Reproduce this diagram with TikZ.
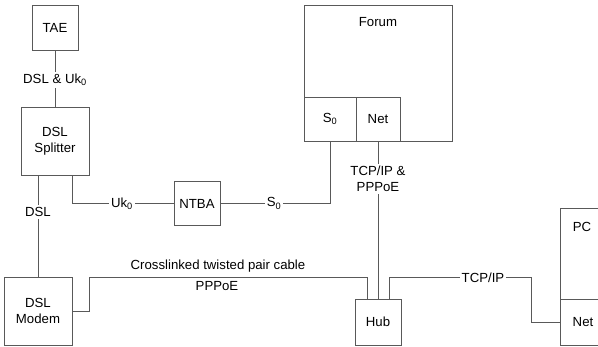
\documentclass[tikz,border=0pt]{standalone}
\usepackage{fontspec}
\setmainfont{Liberation Sans}
\begin{document}
\begin{tikzpicture}[
		x=1pt, y=-1pt,
		font=\fontsize{13.2}{16}\selectfont,
		b/.style = {rectangle, draw=black!65, line width=0.8pt, inner sep=0pt, align=center},
		l/.style = {inner sep=2pt, align=center},
		c/.style = {draw=black!65, line width=0.8pt}
		]
		\clip (0,0) rectangle (598,346);
		
		%Nodes
		\node[b, minimum width=46, minimum height=45]	(tae)		at	(55, 27.5)	{TAE};
		\node[b, minimum width=68, minimum height=68]	(splitter)	at	(55, 141)	{DSL\\Splitter};
		\node[b, minimum width=68, minimum height=68]	(modem)		at	(38, 311)	{DSL\\Modem};
		\node[b, minimum width=46, minimum height=44]	(ntba)		at	(197, 203.5)	{NTBA};
		\node[b, minimum width=148, minimum height=136]	(forum)		at	(378, 73)	{};
		\node[l]										(forumlbl)	at	(378, 22)	{Forum};
		\node[b, minimum width=52, minimum height=44]	(fs0)		at	(330, 119)	{S\textsubscript{0}};
		\node[b, minimum width=44, minimum height=44]	(fnet)		at	(378, 119)	{Net};
		\node[b, minimum width=46, minimum height=46]	(hub)		at	(378, 322)	{Hub};
		\node[b, minimum width=46, minimum height=137]	(pc)		at	(583, 276.5){};
		\node[l]										(pclbl)		at	(582, 227)	{PC};
		\node[b, minimum width=46, minimum height=46]	(pcnet)		at	(583, 322)	{Net};
		
		%Labels
		\node[l]	(dsluk)		at	(55, 80)	{DSL \& Uk\textsubscript{0}};
		\node[l]	(dsl)		at	(38, 212)	{DSL};
		\node[l]	(uk)		at	(122, 203.5)	{Uk\textsubscript{0}};
		\node[l]	(s0)		at	(274, 203.5)	{S\textsubscript{0}};
		\node[l]	(tcppppoe)	at	(378, 179)	{TCP/IP \&\\PPPoE};
		\node[l]	(tcpip)		at	(483, 277.5)	{TCP/IP};
		\node[l]	(cable)		at	(218, 266)	{Crosslinked twisted pair cable};
		\node[l]	(pppoe)		at	(217, 286)	{PPPoE};
		\coordinate	(cablel)	at	(89, 277.5);
		
		%Lines
		\draw[c]	(tae)		--	(dsluk)	--	(splitter);
		\draw[c]	(dsl |- splitter.south)	--	(dsl)	--	(modem);
		\draw[c]	([xshift=17pt]splitter.south)	|-	(uk.west);
		\draw[c]	(uk)		--	(ntba)	--	(s0);
		\draw[c]	(s0.east)	-|	(fs0.south);
		\draw[c]	(fnet)		--	(tcppppoe)	--	(hub);
		\draw[c]	(modem.east)	-|	(cablel)	-|	([xshift=-11pt]hub.north);
		\draw[c]	([xshift=11pt]hub.north)	|-	(tcpip.west);
		\draw[c]	(tcpip.east)	-|	([xshift=-28pt]pcnet.west)	--	(pcnet.west);
	\end{tikzpicture}
\end{document}
